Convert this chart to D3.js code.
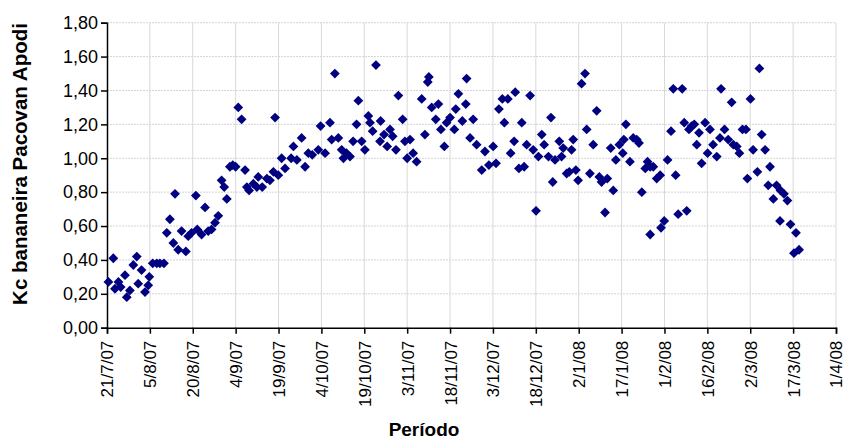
<!DOCTYPE html>
<html>
<head>
<meta charset="utf-8">
<script src="https://cdn.jsdelivr.net/npm/d3@7"></script>
<style>
  body { margin: 0; background: #fff; }
  text { font-family: Arial, "Liberation Sans", sans-serif; }
</style>
</head>
<body>
<div id="chart"></div>
<script>
// dias desde 21/7/07 e Kc
var dias = [0.5,2.2,2.8,4.0,4.8,6.3,6.9,8.0,9.2,10.4,10.9,12.1,13.3,14.4,14.8,16.0,17.4,18.5,19.9,20.9,
  22.0,23.2,23.8,24.9,26.1,27.6,28.4,29.6,31.1,31.6,33.1,34.3,35.4,36.6,37.8,38.9,40.1,41.0,41.9,43.0,
  44.0,45.0,45.9,47.1,48.3,48.9,49.7,51.2,52.4,52.9,54.3,55.9,57.0,58.2,58.8,59.9,61.1,62.3,64.4,65.2,
  66.4,68.1,69.3,70.4,71.8,73.9,74.7,76.3,78.0,78.6,79.7,80.9,82.1,82.7,83.8,85.0,86.1,87.3,87.9,89.1,
  90.2,91.4,92.0,92.9,94.1,95.5,95.7,96.9,98.0,99.0,99.9,101.1,101.9,103.4,104.2,105.0,106.0,107.1,108.3,110.1,
  111.2,112.2,112.6,113.6,115.0,115.9,116.8,118.0,118.8,120.0,121.5,122.0,122.9,124.3,125.5,125.8,127.0,128.1,129.3,131.1,
  132.2,133.6,135.1,136.1,137.1,138.3,139.0,140.2,141.2,142.4,142.8,144.1,145.1,145.9,146.8,148.0,149.1,150.1,150.9,152.1,
  152.9,154.4,155.3,155.9,156.7,158.2,159.0,159.6,160.8,161.7,162.5,163.1,164.0,164.8,166.0,167.2,167.8,168.9,170.1,171.3,
  172.2,173.0,174.2,175.0,176.2,177.1,178.0,179.2,180.4,180.8,181.5,182.9,184.1,185.3,186.1,187.1,188.3,189.1,190.0,190.0,
  191.1,192.3,193.5,193.8,194.9,196.1,197.3,198.1,198.9,199.8,201.2,201.9,202.8,203.6,204.5,205.4,206.3,207.1,208.0,209.2,
  210.1,210.9,212.0,213.3,214.4,214.8,216.0,217.3,218.5,219.1,220.3,221.2,222.3,223.5,224.0,225.1,226.0,227.5,228.2,229.0,
  230.2,231.3,231.9,233.1,234.2,235.4,235.6,236.8,238.0,239.1,240.3,241.0,242.1];
var kc = [0.27,0.41,0.23,0.27,0.24,0.31,0.18,0.22,0.37,0.42,0.26,0.34,0.21,0.25,0.30,0.38,0.38,0.38,0.38,0.56,
  0.64,0.50,0.79,0.46,0.57,0.45,0.54,0.56,0.78,0.58,0.55,0.71,0.57,0.58,0.62,0.66,0.87,0.83,0.76,0.95,
  0.96,0.95,1.30,1.23,0.93,0.83,0.81,0.85,0.83,0.89,0.83,0.88,0.87,0.92,1.24,0.90,1.00,0.94,1.00,1.07,
  0.99,1.12,0.95,1.03,1.02,1.05,1.19,1.03,1.21,1.11,1.50,1.12,1.05,1.00,1.03,1.01,1.10,1.20,1.34,1.10,
  1.05,1.25,1.21,1.16,1.55,1.10,1.22,1.14,1.07,1.17,1.13,1.05,1.37,1.23,1.10,1.00,1.11,1.03,0.98,1.35,
  1.14,1.45,1.48,1.30,1.23,1.32,1.17,1.07,1.21,1.24,1.17,1.29,1.38,1.22,1.32,1.47,1.12,1.23,1.08,0.93,
  1.04,0.96,1.07,0.97,1.29,1.35,1.21,1.35,1.03,1.10,1.39,0.94,1.21,0.95,1.08,1.37,1.05,0.69,1.01,1.14,
  1.08,1.01,1.24,0.86,0.99,1.10,1.01,1.06,0.91,0.92,1.05,1.11,0.93,0.87,1.44,1.50,1.17,0.91,1.08,1.28,
  0.89,0.86,0.68,0.88,1.06,0.81,0.99,1.08,1.03,1.11,1.20,0.98,1.12,1.11,1.09,0.80,0.94,0.98,0.95,0.55,
  0.95,0.88,0.90,0.59,0.63,0.99,1.16,1.41,0.90,0.67,1.41,1.21,0.69,1.17,1.19,1.20,1.08,1.15,0.97,1.21,
  1.03,1.17,1.08,1.01,1.12,1.41,1.17,1.11,1.33,1.08,1.07,1.03,1.17,1.17,0.88,1.35,1.05,0.92,1.53,1.14,
  1.05,0.84,0.95,0.76,0.84,0.63,0.81,0.79,0.75,0.61,0.44,0.56,0.46];

var tickLabels = ["21/7/07","5/8/07","20/8/07","4/9/07","19/9/07","4/10/07","19/10/07","3/11/07","18/11/07",
  "3/12/07","18/12/07","2/1/08","17/1/08","1/2/08","16/2/08","2/3/08","17/3/08","1/4/08"];
var yTicks = [0,0.2,0.4,0.6,0.8,1.0,1.2,1.4,1.6,1.8];

var width = 843, height = 441;
var margin = {top: 22.7, right: 7, bottom: 113.3, left: 107};

var parse = d3.utcParse("%d/%m/%y");
var fmt = d3.utcFormat("%-d/%-m/%y");
var inicio = parse(tickLabels[0]);
var fim = parse(tickLabels[tickLabels.length - 1]);

var svg = d3.select("#chart").append("svg")
  .attr("width", width).attr("height", height);

var x = d3.scaleUtc().domain([inicio, fim]).range([margin.left, width - margin.right]);
var y = d3.scaleLinear().domain([0, 1.8]).range([height - margin.bottom, margin.top]);

// grade
svg.append("g").selectAll("line").data(tickLabels.slice(1)).join("line")
  .attr("x1", d => x(parse(d))).attr("x2", d => x(parse(d)))
  .attr("y1", y(0)).attr("y2", y(1.8))
  .style("stroke", "#d9d9d9").style("stroke-width", 1);
svg.append("g").selectAll("line").data(yTicks.slice(1)).join("line")
  .attr("x1", x(inicio)).attr("x2", x(fim))
  .attr("y1", d => y(d)).attr("y2", d => y(d))
  .style("stroke", "#d4d4d4").style("stroke-width", 1).style("stroke-dasharray", "2,1");

// eixos
var yAxis = d3.axisLeft(y).tickValues(yTicks).tickSize(6).tickPadding(3)
  .tickFormat(d => d3.format(".2f")(d).replace(".", ","));
var gy = svg.append("g").attr("transform", "translate(" + margin.left + ",0)").call(yAxis);
gy.selectAll("text").style("font-size", "18px").style("fill", "#000");
gy.selectAll("line, path").style("stroke", "#000").style("stroke-width", 1.5);

var xAxis = d3.axisBottom(x).tickValues(tickLabels.map(parse)).tickSize(6).tickFormat(fmt);
var gx = svg.append("g").attr("transform", "translate(0," + y(0) + ")").call(xAxis);
gx.select(".domain").style("stroke", "#000").style("stroke-width", 1.5);
gx.selectAll("line").style("stroke", "#000").style("stroke-width", 1.5);
gx.selectAll("text").style("font-size", "17px").style("fill", "#000")
  .attr("text-anchor", "end").attr("dx", 0).attr("dy", "0.35em")
  .attr("transform", "translate(0,5) rotate(-90)").attr("x", -8).attr("y", 0);

// pontos
var pontos = dias.map((d, i) => ({data: d3.utcHour.offset(inicio, Math.round(d * 24)), kc: kc[i]}));
svg.append("g").selectAll("path").data(pontos).join("path")
  .attr("d", d3.symbol().type(d3.symbolSquare).size(48))
  .attr("transform", d => "translate(" + x(d.data) + "," + y(d.kc) + ") rotate(45)")
  .style("fill", "#000080");

// titulos
svg.append("text").attr("x", 424).attr("y", 436).attr("text-anchor", "middle")
  .style("font-size", "19px").style("font-weight", "bold").text("Período");
svg.append("text").attr("transform", "translate(27,164) rotate(-90)").attr("text-anchor", "middle")
  .style("font-size", "20.5px").style("font-weight", "bold").text("Kc bananeira Pacovan Apodi");
</script>
</body>
</html>
